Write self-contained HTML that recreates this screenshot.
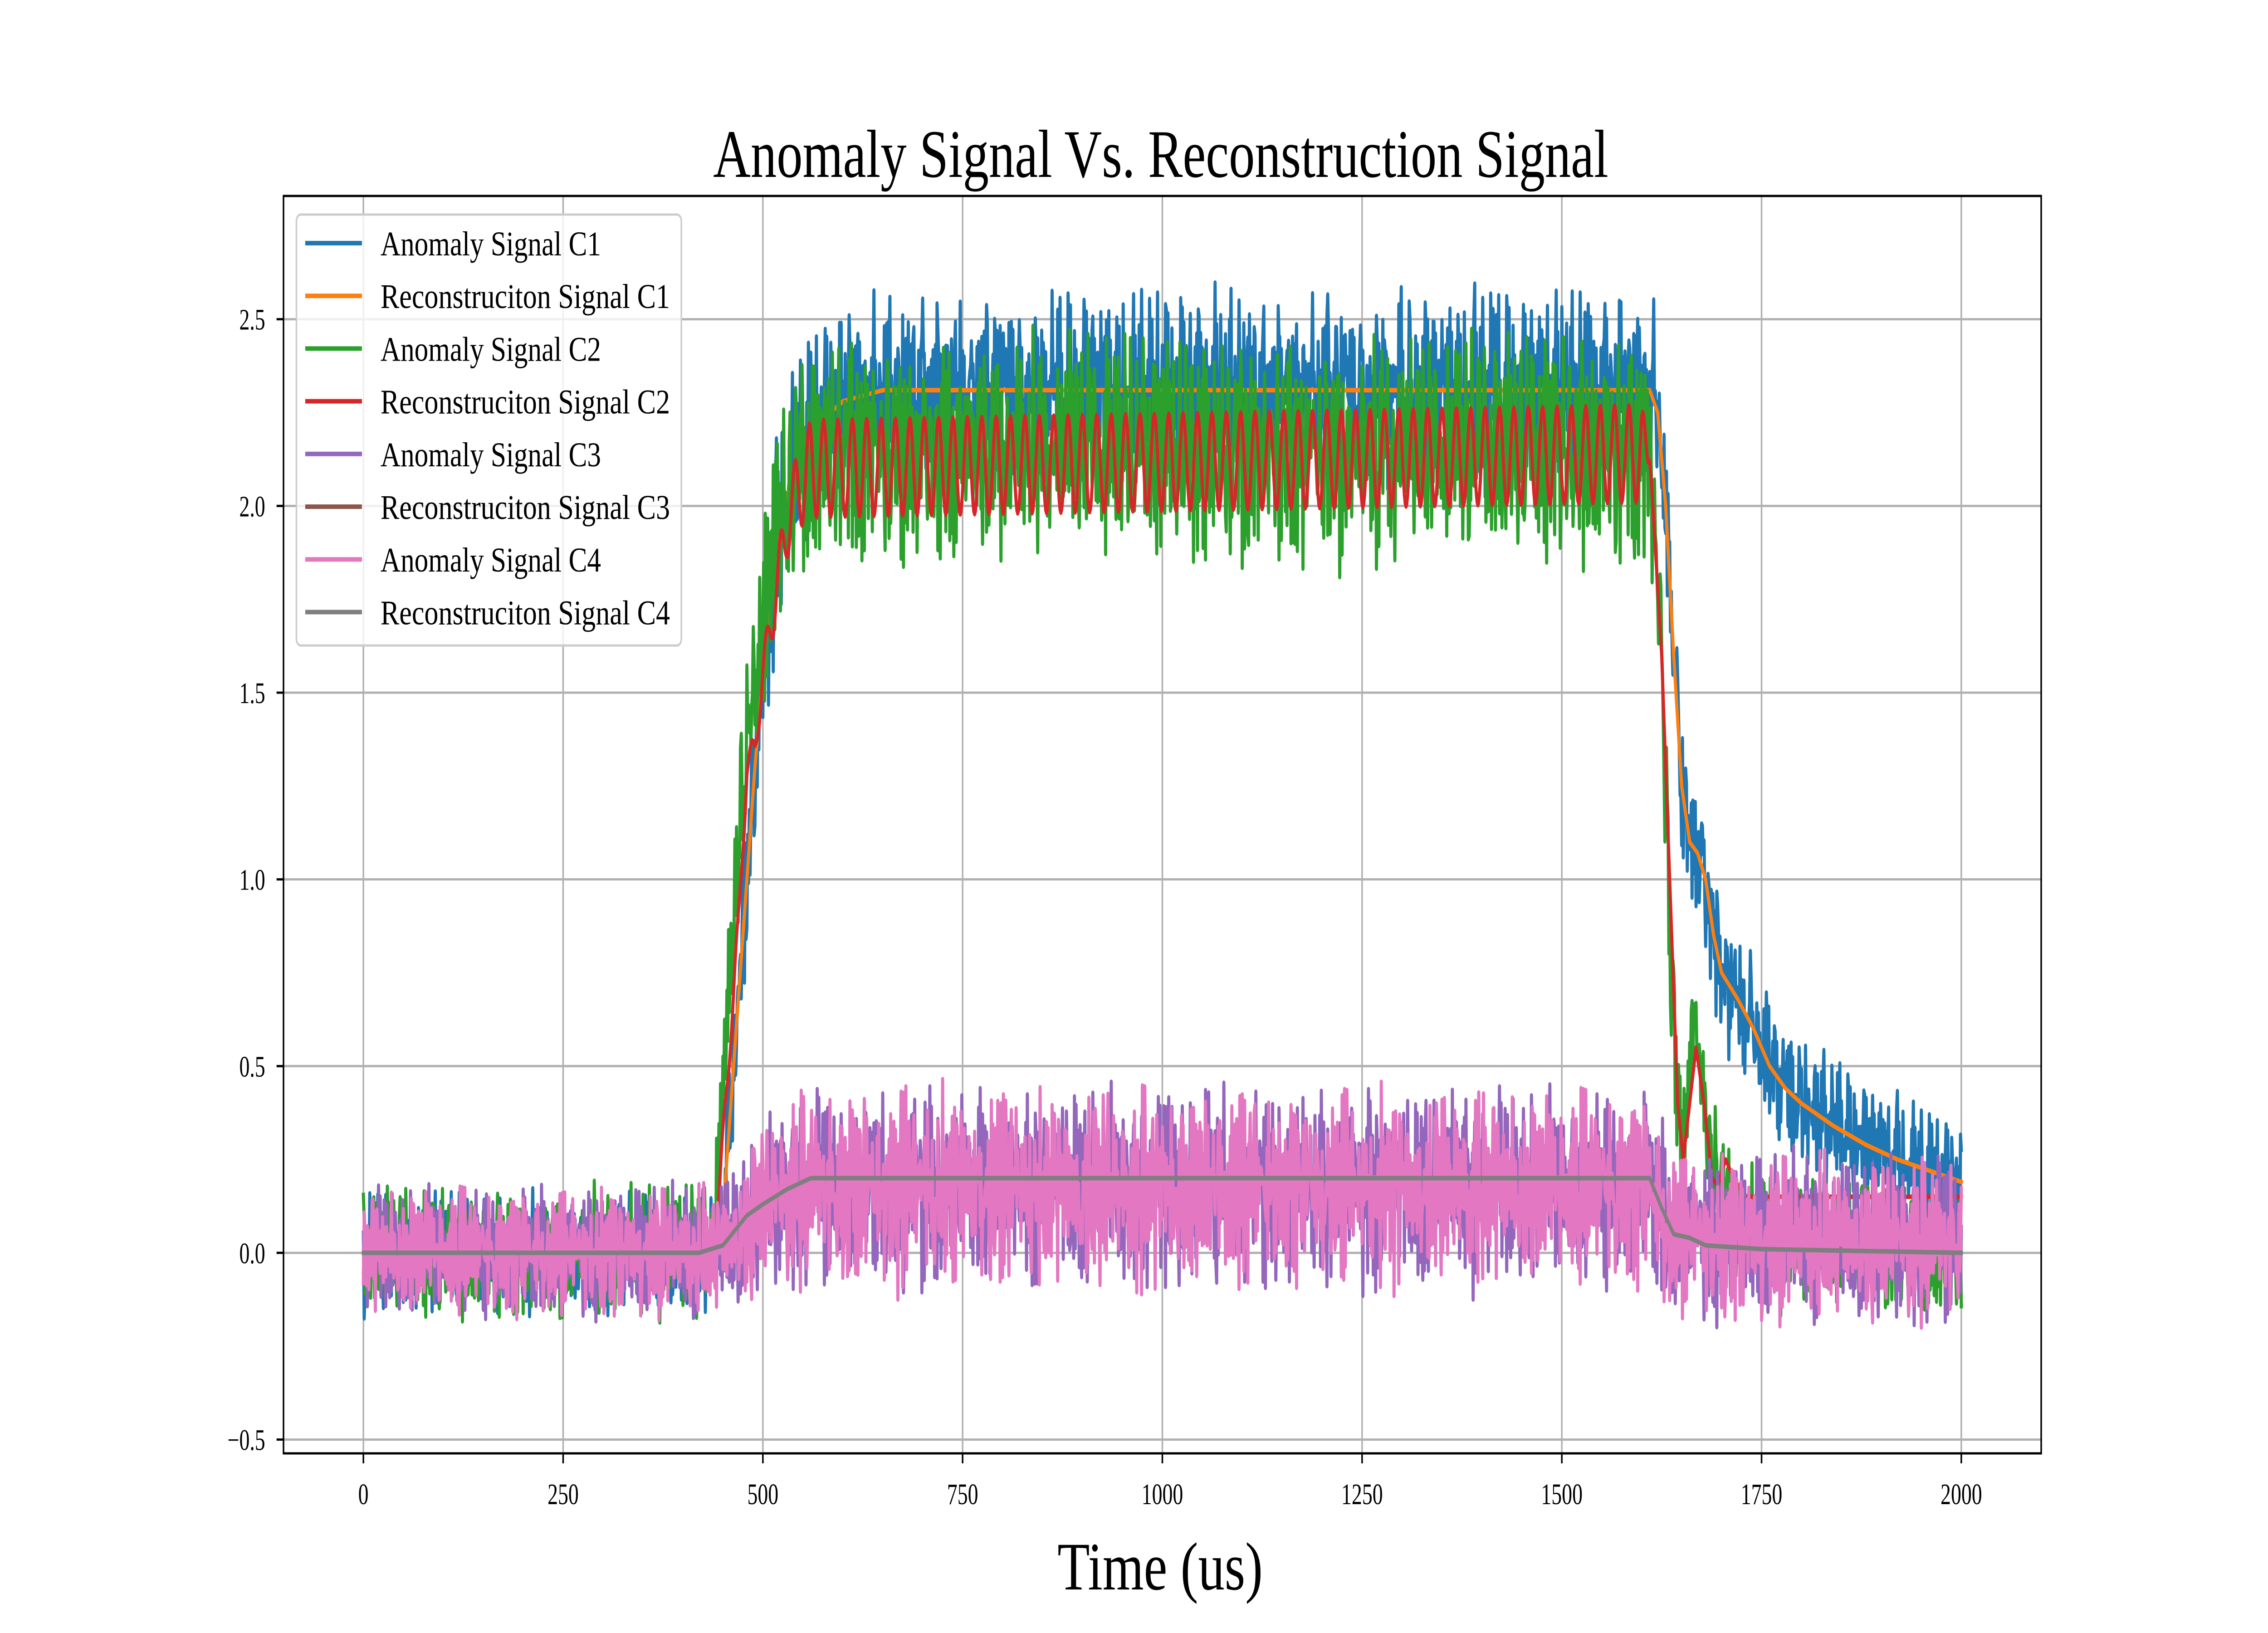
<!DOCTYPE html>
<html><head><meta charset="utf-8"><style>
html,body{margin:0;padding:0;background:#fff;width:100%;height:100%;overflow:hidden;}
svg{display:block;position:fixed;left:0;top:0;width:100vw;height:100vh;}
text{font-family:"Liberation Serif",serif;fill:#000;}
</style></head><body>
<svg id="chart" viewBox="0 0 7200 3600" preserveAspectRatio="none" xmlns="http://www.w3.org/2000/svg">
<rect x="0" y="0" width="7200" height="3600" fill="#fff"/>
<defs><clipPath id="plotclip"><rect x="900" y="432" width="5580" height="2772"/></clipPath></defs>
<g id="grid"></g>
<g id="series" clip-path="url(#plotclip)"></g>
<rect x="900" y="432" width="5580" height="2772" fill="none" stroke="#000" stroke-width="5"/>
<g id="ticks"></g>
<text x="3685" y="390" font-size="150" text-anchor="middle" textLength="2842" lengthAdjust="spacingAndGlyphs">Anomaly Signal Vs. Reconstruction Signal</text>
<text x="3683" y="3504" font-size="150" text-anchor="middle" textLength="652" lengthAdjust="spacingAndGlyphs">Time (us)</text>
<g id="legend"></g>
</svg>
<script>
const xTicks=[0,250,500,750,1000,1250,1500,1750,2000];
const yTicks=[-0.5,0,0.5,1.0,1.5,2.0,2.5];
const yTickLabels=["\u22120.5","0.0","0.5","1.0","1.5","2.0","2.5"];
const seriesNames=["Anomaly Signal C1","Reconstruciton Signal C1","Anomaly Signal C2","Reconstruciton Signal C2","Anomaly Signal C3","Reconstruciton Signal C3","Anomaly Signal C4","Reconstruciton Signal C4"];
const seriesColors=["#1f77b4","#ff7f0e","#2ca02c","#d62728","#9467bd","#8c564b","#e377c2","#7f7f7f"];
// C1 level keypoints
const c1T=[0,440,450,470,490,500,520,540,560,600,650,1610,1620,1630,1640,1650,1660,1670,1680,1690,1700,1720,1740,1760,1780,1800,1840,1880,1920,1960,2000];
const c1V=[0,0,0.1,0.7,1.3,1.55,1.95,2.1,2.2,2.28,2.31,2.31,2.25,2.0,1.6,1.25,1.1,1.07,1.0,0.85,0.75,0.68,0.6,0.5,0.44,0.4,0.34,0.29,0.25,0.22,0.19];
const c1AmpT=[0,440,520,1610,1650,2000];
const c1AmpV=[0.16,0.16,0.26,0.26,0.2,0.15];
// C2
const c2T=[0,430,440,455,470,480,495,510,530,550,580,1610,1625,1635,1645,1652,1665,1675,1690,1720,1760,2000];
const c2V=[0,0,0.1,0.6,1.1,1.35,1.6,1.85,2.0,2.1,2.15,2.15,1.6,0.9,0.35,0.3,0.65,0.45,0.2,0.08,0.02,0];
const c2AmpT=[0,440,530,1610,1650,1700,2000];
const c2AmpV=[0.17,0.17,0.3,0.3,0.2,0.17,0.17];
const r2T=[0,440,450,470,480,490,500,515,530,545,560,1610,1625,1635,1645,1652,1660,1668,1678,1688,1695,1705,1715,1730,2000];
const r2V=[0,0,0.3,0.9,1.3,1.35,1.55,1.75,1.95,2.05,2.1,2.14,1.6,1.0,0.4,0.25,0.4,0.55,0.4,0.2,0.18,0.25,0.2,0.15,0.15];
const r2OscT=[0,490,560,1600,1612,2000];
const r2OscV=[0,0.04,0.13,0.13,0,0];
const r2Period=18;
// C3 / C4
const c34T=[0,440,470,500,540,1610,1630,1650,2000];
const c34V=[0,0,0.05,0.12,0.17,0.17,0.08,0.04,0.03];
const c34AmpT=[0,440,540,1610,1650,2000];
const c34AmpV=[0.17,0.17,0.26,0.26,0.22,0.22];
const recT=[0,420,450,480,500,530,560,1610,1625,1640,1660,1680,1750,2000];
const recV=[0,0,0.02,0.1,0.13,0.17,0.2,0.2,0.12,0.05,0.04,0.02,0.01,0];
const noise=[0.3,-0.8,0.5,-0.2,0.9,-0.6,0.1,-0.95,0.7,-0.3,0.4,-0.7,0.2,0.85,-0.5,-0.1,0.6,-0.9,0.35,-0.4,1.0,-0.65,0.15,-0.25,0.75,-0.85,0.45,-0.05,0.55,-0.75,0.25,0.8,-0.45,-0.15,0.65,-1.0,0.05,-0.55,0.95,-0.35,0.5,-0.6,0.3,-0.2,0.7,-0.8,0.1,0.9,-0.7,-0.3,0.4,-0.5,0.6,-0.9,0.2,-0.1,0.85,-0.4,0.35,-0.75,0.15];
const noiseB=[0.2,-0.5,0.6,-0.1,0.35,-0.7,0.45,0.05,-0.3,0.7,-0.45,0.15,-0.6,0.5,-0.2,0.3,-0.55,0.65,-0.05,0.25,-0.4,0.55,-0.15];

const NS="http://www.w3.org/2000/svg";
const X=t=>900+(t+100)/2200*5580;
const Y=v=>432+(2.83-v)*823.3;
function lerp(ts,vs,t){if(t<=ts[0])return vs[0];for(let i=1;i<ts.length;i++){if(t<=ts[i]){const f=(t-ts[i-1])/(ts[i]-ts[i-1]);return vs[i-1]+f*(vs[i]-vs[i-1]);}}return vs[vs.length-1];}
function mk(tag,attrs,parent){const e=document.createElementNS(NS,tag);for(const k in attrs)e.setAttribute(k,attrs[k]);parent.appendChild(e);return e;}

const grid=document.getElementById('grid');
const ticks=document.getElementById('ticks');
xTicks.forEach(t=>{
  const g=mk('line',{x1:X(t),x2:X(t),y1:432,y2:3204,stroke:'#b0b0b0','stroke-width':5},grid);
  
  
  const tk=mk('line',{x1:X(t),x2:X(t),y1:3204,y2:3226,stroke:'#000','stroke-width':5},ticks);
  
  
  const tx=mk('text',{x:X(t),y:3316,'font-size':66,'text-anchor':'middle'},ticks);
  tx.textContent=String(t);
  
  
});
yTicks.forEach((v,i)=>{
  const g=mk('line',{x1:900,x2:6480,y1:Y(v),y2:Y(v),stroke:'#b0b0b0','stroke-width':5},grid);
  
  
  const tk=mk('line',{x1:878,x2:900,y1:Y(v),y2:Y(v),stroke:'#000','stroke-width':5},ticks);
  
  
  const tx=mk('text',{x:842,y:Y(v)+23,'font-size':66,'text-anchor':'end'},ticks);
  tx.textContent=yTickLabels[i];
  
  
});

function buildNoisy(mT,mV,aT,aV,off,step){const pts=[];for(let t=0;t<=2000;t++){const n=0.75*noise[(t*step+off)%noise.length]+0.55*noiseB[(t*5+off)%noiseB.length];pts.push([t,lerp(mT,mV,t)+lerp(aT,aV,t)*n]);}return pts;}
function buildSmooth(mT,mV){const pts=[];for(let t=0;t<=2000;t++)pts.push([t,lerp(mT,mV,t)]);return pts;}
function buildOsc(){const pts=[];for(let t=0;t<=2000;t++){pts.push([t,lerp(r2T,r2V,t)+lerp(r2OscT,r2OscV,t)*Math.cos(2*Math.PI*t/r2Period)]);}return pts;}
const data=[
 buildNoisy(c1T,c1V,c1AmpT,c1AmpV,0,7),
 buildSmooth(c1T,c1V),
 buildNoisy(c2T,c2V,c2AmpT,c2AmpV,13,11),
 buildOsc(),
 buildNoisy(c34T,c34V,c34AmpT,c34AmpV,29,17),
 buildSmooth(recT,recV),
 buildNoisy(c34T,c34V,c34AmpT,c34AmpV,41,3),
 buildSmooth(recT,recV)
];
const sg=document.getElementById('series');
const seriesKeys=['anomaly-c1','reconstruction-c1','anomaly-c2','reconstruction-c2','anomaly-c3','reconstruction-c3','anomaly-c4','reconstruction-c4'];
data.forEach((pts,i)=>{
  const d='M'+pts.map(p=>X(p[0]).toFixed(1)+','+Y(p[1]).toFixed(1)).join('L');
  const p=mk('path',{d:d,fill:'none',stroke:seriesColors[i],'stroke-width':10,'stroke-linejoin':'round','stroke-linecap':'square'},sg);
  
  
});
const lg=document.getElementById('legend');
const box=mk('rect',{x:941,y:473,width:1222,height:950,rx:14,fill:'#fff','fill-opacity':0.8,stroke:'#cccccc','stroke-width':5},lg);


seriesNames.forEach((n,i)=>{
  const y=536+i*116.2;
  const h=mk('line',{x1:969,x2:1149,y1:y,y2:y,stroke:seriesColors[i],'stroke-width':10},lg);
  
  
  const w=n.startsWith('Anomaly')?700:919;
  const t=mk('text',{x:1208,y:y+27,'font-size':76,textLength:w,lengthAdjust:'spacingAndGlyphs'},lg);
  t.textContent=n;
  
  
});
</script>
</body></html>
